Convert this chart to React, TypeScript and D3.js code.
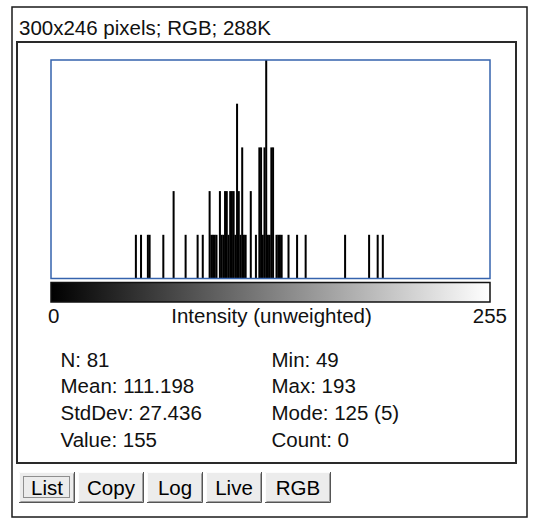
import * as d3 from 'd3';

// histogram bins (intensity level) and their pixel counts
const BINS = [
  49, 52, 56, 57, 65, 71, 78, 85, 88, 92, 93, 94, 95, 96, 98, 99, 100, 101, 102, 103,
  104, 105, 106, 107, 108, 109, 110, 111, 112, 113, 116, 119, 121, 122, 123, 124, 125,
  126, 127, 128, 129, 131, 132, 133, 134, 138, 143, 148, 171, 185, 190, 193,
];
const COUNTS = [
  1, 1, 1, 1, 1, 2, 1, 1, 1, 2, 1, 1, 1, 1, 2, 1, 1, 2, 2, 1,
  2, 2, 2, 1, 4, 2, 1, 3, 1, 1, 2, 1, 3, 3, 1, 3, 5,
  1, 1, 3, 3, 1, 1, 1, 1, 1, 1, 1, 1, 1, 1, 1,
];

const TITLE = '300x246 pixels; RGB; 288K';
const X_LABEL = 'Intensity (unweighted)';
const X_MIN_LABEL = '0';
const X_MAX_LABEL = '255';
const STATS_LEFT = ['N: 81', 'Mean: 111.198', 'StdDev: 27.436', 'Value: 155'];
const STATS_RIGHT = ['Min: 49', 'Max: 193', 'Mode: 125 (5)', 'Count: 0'];
const BUTTONS = ['List', 'Copy', 'Log', 'Live', 'RGB'];

const W = 550;
const H = 530;
const FONT = '"Liberation Sans", Arial, sans-serif';
const FS = 20.5;

// plot frame
const PL = 51;
const PR = 490;
const PT = 60;
const PB = 278.5;

export default function App() {
  const x = d3.scaleLinear().domain([0, 256]).range([PL, PR]);
  const y = d3.scaleLinear().domain([0, d3.max(COUNTS) as number]).range([PB, PT]);

  const btnWidths = [56, 66, 56, 56, 66];
  let bx = 19;
  const btnPos = btnWidths.map((w) => {
    const p = bx;
    bx += w + 3;
    return p;
  });

  return (
    <svg
      width={W}
      height={H}
      style={{ position: 'absolute', left: 0, top: 0, background: '#fff' }}
      fontFamily={FONT}
      fontSize={FS}
    >
      <defs>
        <linearGradient id="lut" x1="0" x2="1" y1="0" y2="0">
          <stop offset="0" stopColor="#000" />
          <stop offset="1" stopColor="#fff" />
        </linearGradient>
      </defs>

      {/* window frames */}
      <rect x={12} y={7} width={515} height={510} fill="#fff" stroke="#1a1a1a" strokeWidth={1.5} />
      <text x={19} y={35} fill="#111">{TITLE}</text>
      <rect x={17} y={42} width={499} height={421} fill="#fff" stroke="#2a2a2a" strokeWidth={2} />

      {/* bars, a hair wider so neighbouring bins join up */}
      {BINS.map((b, i) => (
        <rect
          key={b}
          x={x(b) - 0.15}
          y={y(COUNTS[i])}
          width={x(b + 1) - x(b) + 0.3}
          height={PB - y(COUNTS[i])}
          fill="#000"
        />
      ))}
      <rect x={PL} y={PT} width={PR - PL} height={PB - PT} fill="none" stroke="#3563ad" strokeWidth={1.5} />

      {/* lut bar */}
      <rect x={x(0)} y={282.5} width={x(256) - x(0)} height={19.5} fill="url(#lut)" stroke="#111" strokeWidth={1.5} />
      <text x={48} y={323} fill="#111">{X_MIN_LABEL}</text>
      <text x={(PL + PR) / 2 + 1} y={323} textAnchor="middle" fill="#111">{X_LABEL}</text>
      <text x={507} y={323} textAnchor="end" fill="#111">{X_MAX_LABEL}</text>

      {/* statistics */}
      {STATS_LEFT.map((s, i) => (
        <text key={s} x={60.5} y={366.5 + i * 26.7} fill="#111">{s}</text>
      ))}
      {STATS_RIGHT.map((s, i) => (
        <text key={s} x={271.5} y={366.5 + i * 26.7} fill="#111">{s}</text>
      ))}

      {/* buttons */}
      {BUTTONS.map((label, i) => {
        const bxp = btnPos[i];
        const w = btnWidths[i];
        const top = 472;
        const h = 31;
        return (
          <g key={label}>
            <rect x={bxp} y={top} width={w} height={h} fill="#ececec" />
            <path d={`M${bxp + 0.5},${top + h} V${top + 0.5} H${bxp + w}`} fill="none" stroke="#fcfcfc" />
            <path d={`M${bxp},${top + h - 0.5} H${bxp + w - 0.5} V${top}`} fill="none" stroke="#555" />
            <path d={`M${bxp + 1.5},${top + h - 1.5} H${bxp + w - 1.5} V${top + 1.5}`} fill="none" stroke="#a0a0a0" />
            {i === 0 && (
              <rect
                x={bxp + 4.5}
                y={top + 4.5}
                width={w - 10}
                height={h - 10}
                fill="none"
                stroke="#333"
                strokeDasharray="1 1"
              />
            )}
            <text x={bxp + w / 2} y={top + 23} textAnchor="middle" fill="#000">{label}</text>
          </g>
        );
      })}
    </svg>
  );
}
